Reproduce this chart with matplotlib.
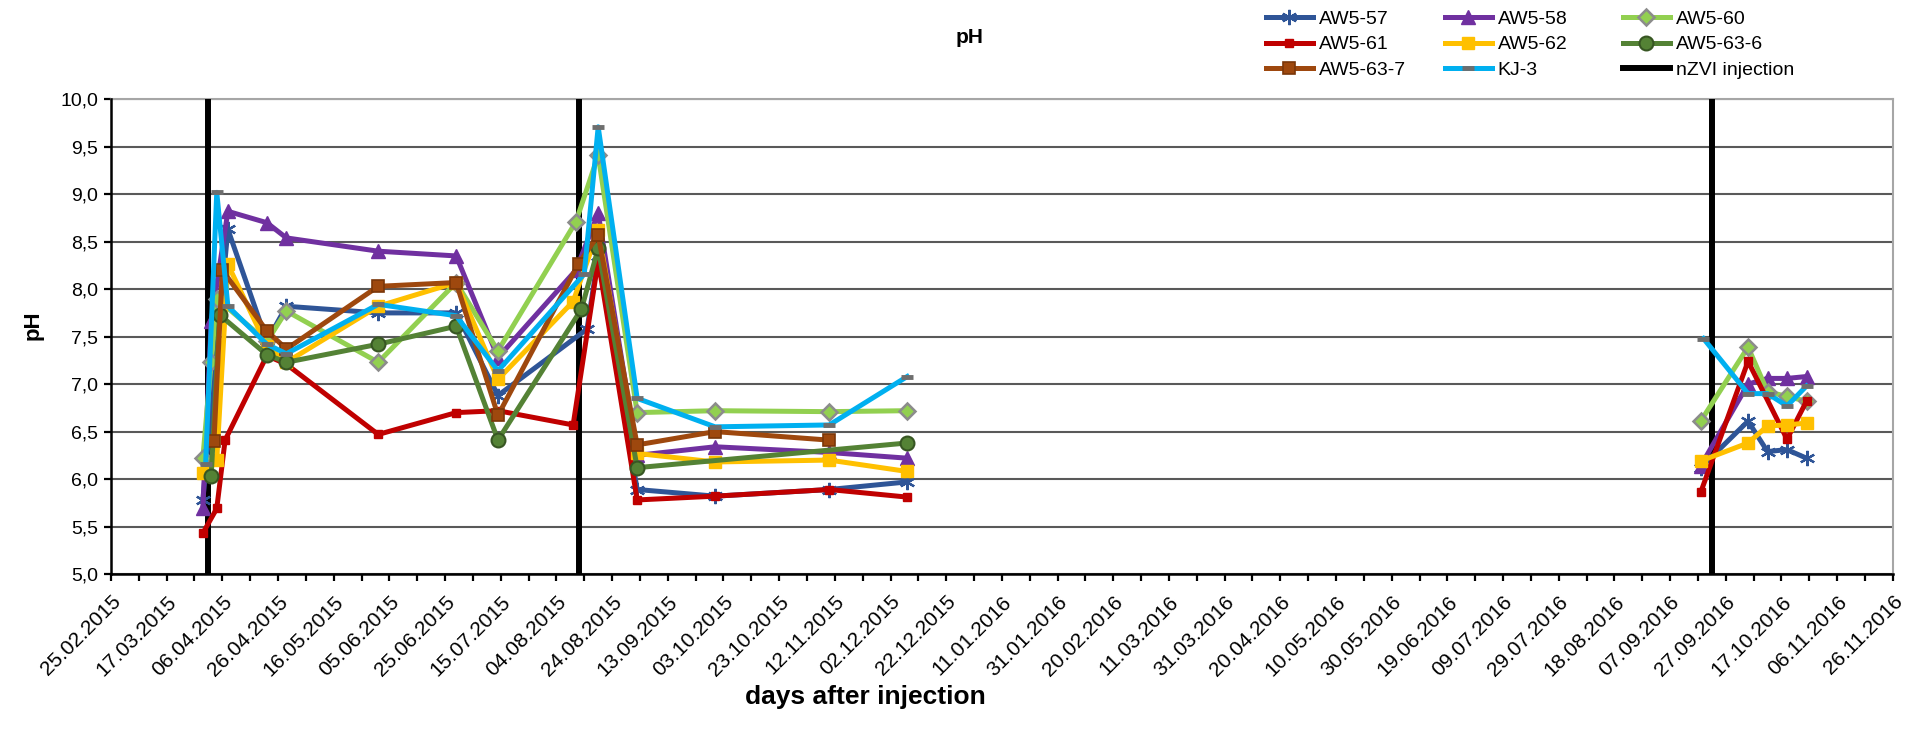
import matplotlib
matplotlib.use('Agg')
import matplotlib.pyplot as plt
from matplotlib.ticker import FuncFormatter, MultipleLocator
from matplotlib.lines import Line2D
import numpy as np
import pandas as pd

plt.rcParams['font.family'] = ['Liberation Sans', 'DejaVu Sans']

# measured pH per well (dates = sampling dates)
aw557_dates = ['2015-03-30', '2015-04-08', '2015-04-22', '2015-04-29', '2015-06-01', '2015-06-29',
               '2015-07-14', '2015-08-15', '2015-08-19', '2015-09-02', '2015-09-30', '2015-11-10',
               '2015-12-08', '2016-09-18', '2016-10-05', '2016-10-12', '2016-10-19', '2016-10-26']
aw557_ph = [5.78, 8.63, 7.45, 7.82, 7.75, 7.75, 6.88, 7.58, 8.35, 5.89, 5.82, 5.89, 5.97,
            6.12, 6.61, 6.29, 6.31, 6.22]

aw558_dates = ['2015-03-30', '2015-04-02', '2015-04-08', '2015-04-22', '2015-04-29', '2015-06-01',
               '2015-06-29', '2015-07-14', '2015-08-11', '2015-08-19', '2015-09-02', '2015-09-30',
               '2015-11-10', '2015-12-08', '2016-09-18', '2016-10-05', '2016-10-12', '2016-10-19',
               '2016-10-26']
aw558_ph = [5.69, 7.66, 8.82, 8.70, 8.54, 8.40, 8.35, 7.28, 8.20, 8.80, 6.25, 6.34, 6.28, 6.22,
            6.14, 7.00, 7.06, 7.06, 7.08]

aw560_dates = ['2015-03-30', '2015-04-02', '2015-04-04', '2015-04-22', '2015-04-29', '2015-06-01',
               '2015-06-29', '2015-07-14', '2015-08-11', '2015-08-19', '2015-09-02', '2015-09-30',
               '2015-11-10', '2015-12-08', '2016-09-18', '2016-10-05', '2016-10-12', '2016-10-19',
               '2016-10-26']
aw560_ph = [6.22, 7.23, 7.90, 7.45, 7.77, 7.23, 8.07, 7.35, 8.71, 9.41, 6.70, 6.72, 6.71, 6.72,
            6.61, 7.39, 6.92, 6.87, 6.82]

aw561_dates = ['2015-03-30', '2015-04-04', '2015-04-07', '2015-04-22', '2015-04-29', '2015-06-01',
               '2015-06-29', '2015-07-14', '2015-08-10', '2015-08-19', '2015-09-02', '2015-09-30',
               '2015-11-10', '2015-12-08', '2016-09-18', '2016-10-05', '2016-10-19', '2016-10-26']
aw561_ph = [5.43, 5.69, 6.41, 7.30, 7.21, 6.47, 6.70, 6.72, 6.57, 8.30, 5.78, 5.82, 5.89, 5.81,
            5.86, 7.24, 6.42, 6.82]

aw562_dates = ['2015-03-30', '2015-04-04', '2015-04-08', '2015-04-22', '2015-04-29', '2015-06-01',
               '2015-06-29', '2015-07-14', '2015-08-10', '2015-08-19', '2015-09-02', '2015-09-30',
               '2015-11-10', '2015-12-08', '2016-09-18', '2016-10-05', '2016-10-12', '2016-10-19',
               '2016-10-26']
aw562_ph = [6.06, 6.20, 8.26, 7.40, 7.23, 7.82, 8.07, 7.05, 7.87, 8.62, 6.27, 6.18, 6.20, 6.08,
            6.19, 6.38, 6.56, 6.57, 6.59]

aw5636_dates = ['2015-04-02', '2015-04-05', '2015-04-22', '2015-04-29', '2015-06-01', '2015-06-29',
                '2015-07-14', '2015-08-13', '2015-08-19', '2015-09-02', '2015-12-08']
aw5636_ph = [6.03, 7.73, 7.31, 7.23, 7.42, 7.61, 6.41, 7.79, 8.43, 6.12, 6.38]

aw5637_dates = ['2015-04-03', '2015-04-06', '2015-04-22', '2015-04-29', '2015-06-01', '2015-06-29',
                '2015-07-14', '2015-08-12', '2015-08-19', '2015-09-02', '2015-09-30', '2015-11-10']
aw5637_ph = [6.40, 8.20, 7.56, 7.37, 8.03, 8.07, 6.67, 8.27, 8.57, 6.36, 6.50, 6.41]

kj3_dates = ['2015-03-31', '2015-04-04', '2015-04-08', '2015-04-22', '2015-04-29', '2015-06-01',
             '2015-06-29', '2015-07-14', '2015-08-14', '2015-08-19', '2015-09-02', '2015-09-30',
             '2015-11-10', '2015-12-08', '2016-09-19', '2016-10-05', '2016-10-12', '2016-10-19',
             '2016-10-26']
kj3_ph = [6.16, 9.02, 7.82, 7.42, 7.32, 7.84, 7.72, 7.14, 8.16, 9.71, 6.85, 6.55, 6.57, 7.08,
          7.48, 6.90, 6.90, 6.77, 6.98]

injection_dates = ['2015-04-01', '2015-08-12', '2016-09-22']

series = [
    ('AW5-57', aw557_dates, aw557_ph, dict(color='#2F5597', marker=(6, 2, 0), ms=11, mew=1.6)),
    ('AW5-58', aw558_dates, aw558_ph, dict(color='#7030A0', marker='^', ms=10)),
    ('AW5-60', aw560_dates, aw560_ph, dict(color='#92D050', marker='D', ms=8.5, mfc='#92D050', mec='#8C8C8C', mew=1.8)),
    ('AW5-61', aw561_dates, aw561_ph, dict(color='#C00000', marker='s', ms=6)),
    ('AW5-62', aw562_dates, aw562_ph, dict(color='#FFC000', marker='s', ms=8.5)),
    ('AW5-63-6', aw5636_dates, aw5636_ph, dict(color='#548235', marker='o', ms=10, mfc='#548235', mec='#375623', mew=1.5)),
    ('AW5-63-7', aw5637_dates, aw5637_ph, dict(color='#9E480E', marker='s', ms=8.5, mec='#7A3608', mew=1.2)),
    ('KJ-3', kj3_dates, kj3_ph, dict(color='#00B0F0', marker='_', ms=8, mec='#6E6E6E', mew=3.5)),
]

fig = plt.figure(figsize=(19.23, 7.42), dpi=100)
ax = fig.add_axes([0.0577, 0.2264, 0.9266, 0.6398])

for d in injection_dates:
    ax.axvline(pd.Timestamp(d), color='black', lw=4.3, zorder=3)

handles = {}
for name, dates, vals, st in series:
    x = pd.to_datetime(dates)
    y = np.array(vals, dtype=float)
    # break the line across the long gap without samples
    gaps = np.where(np.diff(x.values).astype('timedelta64[D]').astype(int) > 100)[0]
    xs = list(x)
    ys = list(y)
    for g in gaps[::-1]:
        xs.insert(g + 1, xs[g] + pd.Timedelta(days=1))
        ys.insert(g + 1, np.nan)
    ln, = ax.plot(xs, ys, lw=3.6, label=name, zorder=4, **st)
    handles[name] = ln
handles['nZVI injection'] = Line2D([], [], color='black', lw=4.3)

ax.set_ylim(5, 10)
ax.set_xlim(pd.Timestamp('2015-02-25'), pd.Timestamp('2016-11-26'))
ax.yaxis.set_major_locator(MultipleLocator(0.5))
ax.yaxis.set_major_formatter(FuncFormatter(lambda v, p: ('%.1f' % v).replace('.', ',')))

start = pd.Timestamp('2015-02-25')
ticks10 = pd.date_range(start, pd.Timestamp('2016-11-26'), freq='10D')
ax.set_xticks(ticks10)
ax.set_xticklabels([t.strftime('%d.%m.%Y') if i % 2 == 0 else '' for i, t in enumerate(ticks10)],
                   rotation=45, ha='right', va='top', rotation_mode='anchor', fontsize=15)
ax.tick_params(axis='x', length=5, width=1.6, pad=8, color='black')
ax.tick_params(axis='y', length=5, width=1.6, labelsize=14, pad=4, color='black')

ax.grid(axis='y', color='#595959', lw=1.5)
ax.set_axisbelow(True)
for s in ['left', 'bottom']:
    ax.spines[s].set_color('black')
    ax.spines[s].set_linewidth(1.8)
    ax.spines[s].set_zorder(5)
for s in ['top', 'right']:
    ax.spines[s].set_color('#A6A6A6')
    ax.spines[s].set_linewidth(1.5)

fig.text(0.5044, 0.949, 'pH', ha='center', va='center', fontsize=15, fontweight='bold')
fig.text(0.017, 0.562, 'pH', ha='center', va='center', rotation=90, fontsize=16, fontweight='bold')
fig.text(0.450, 0.060, 'days after injection', ha='center', va='center', fontsize=19, fontweight='bold')

cols = [['AW5-57', 'AW5-61', 'AW5-63-7'],
        ['AW5-58', 'AW5-62', 'KJ-3'],
        ['AW5-60', 'AW5-63-6', 'nZVI injection']]
col_x = [1266, 1445, 1623]
for cx, names in zip(col_x, cols):
    fig.legend([handles[n] for n in names], names, loc='upper left',
               bbox_to_anchor=(cx / 1923, 1 - 10 / 742), frameon=False, ncol=1,
               fontsize=14, handlelength=2.4, handletextpad=0.3, labelspacing=0.42,
               borderpad=0, borderaxespad=0)

fig.savefig('out.png', dpi=100)
